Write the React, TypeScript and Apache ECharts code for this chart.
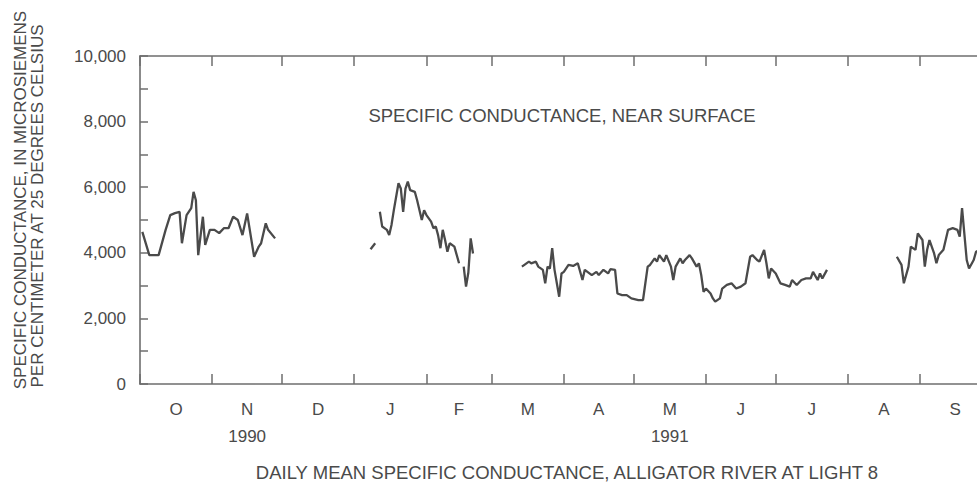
import React, { useEffect, useRef } from "react";
import * as echarts from "echarts";

// Water year Oct 1990 – Sep 1991; day numbers count from 1 Oct 1990
const monthLetters = ["O", "N", "D", "J", "F", "M", "A", "M", "J", "J", "A", "S"];
const yearUnderMonth: Record<number, string> = { 1: "1990", 7: "1991" };

const seg1Days = [1, 4, 8, 11, 13, 15, 17, 18, 20, 22, 23, 24, 25, 27, 28, 30, 32, 34, 36, 38, 40, 42, 44, 46, 49, 51, 52, 54, 55, 58];
const seg1Values = [4640, 3930, 3930, 4700, 5150, 5210, 5250, 4290, 5150, 5360, 5860, 5600, 3930, 5100, 4240, 4700, 4700, 4600, 4750, 4750, 5100, 5000, 4540, 5200, 3880, 4190, 4290, 4900, 4700, 4440];

const seg2Days = [99, 101];
const seg2Values = [4110, 4290];

const seg3Days = [103, 104, 106, 107, 108, 109, 111, 112, 113, 114, 115, 116, 118, 119, 121, 122, 123, 125, 126, 127, 128, 129, 130, 131, 132, 133, 135, 137];
const seg3Values = [5250, 4800, 4700, 4540, 4850, 5300, 6120, 5960, 5250, 5960, 6170, 5910, 5860, 5600, 5000, 5300, 5150, 4950, 4750, 4800, 4540, 4140, 4700, 4390, 4030, 4290, 4190, 3680];

const seg4Days = [139, 140, 141, 142, 143];
const seg4Values = [3580, 2970, 3400, 4440, 3980];

const seg5Days = [164, 167, 168, 170, 171, 173, 174, 175, 176, 177, 178, 180, 181, 182, 184, 186, 188, 190, 191, 194, 196, 197, 199, 201, 202, 204, 205, 207, 209, 211, 214, 216, 218, 219, 221, 222, 223, 225, 226, 228, 229, 230, 232, 233, 234, 236, 237, 239, 240, 241, 242, 243, 245, 246, 247, 249, 250, 252, 254, 256, 258, 260, 262, 263, 265, 266, 268, 269, 270, 271, 273, 275, 277, 279, 280, 282, 284, 286, 288, 289, 291, 292, 293, 295];
const seg5Values = [3580, 3730, 3680, 3730, 3580, 3480, 3070, 3580, 3520, 4140, 3480, 2660, 3370, 3420, 3630, 3600, 3680, 3170, 3480, 3320, 3420, 3320, 3480, 3370, 3500, 3480, 2760, 2710, 2710, 2610, 2560, 2560, 3580, 3630, 3830, 3730, 3930, 3730, 3930, 3580, 3170, 3580, 3830, 3680, 3780, 3930, 3830, 3580, 3680, 3320, 2810, 2910, 2760, 2610, 2510, 2610, 2910, 3020, 3070, 2910, 2970, 3070, 3880, 3930, 3780, 3730, 4090, 3680, 3220, 3520, 3370, 3070, 3020, 2970, 3170, 3020, 3170, 3220, 3220, 3420, 3170, 3370, 3220, 3480];

const seg6Days = [325, 327, 328, 330, 331, 333, 334, 336, 337, 338, 339, 341, 342, 343, 345, 347, 349, 351, 352, 353, 355, 356, 358, 359, 361];
const seg6Values = [3880, 3630, 3070, 3580, 4190, 4090, 4590, 4390, 3580, 4090, 4390, 3980, 3680, 3930, 4090, 4700, 4750, 4700, 4490, 5360, 3780, 3520, 3780, 4030, 4100];

const yAxisTitle1 = "SPECIFIC CONDUCTANCE, IN MICROSIEMENS";
const yAxisTitle2 = "PER CENTIMETER AT 25 DEGREES CELSIUS";
const innerTitle = "SPECIFIC CONDUCTANCE, NEAR SURFACE";
const bottomTitle = "DAILY MEAN SPECIFIC CONDUCTANCE, ALLIGATOR RIVER AT LIGHT 8";

const FONT = "'Liberation Sans', Arial, Helvetica, sans-serif";
const TEXT = "#4a4a4a";
const AXIS = "#6e6e6e";
const LINE = "#4a4a4a";

const dayToTime = (d: number) => new Date(1990, 9, 1 + d).getTime();
const pairs = (days: number[], values: number[]) => days.map((d, i) => [dayToTime(d), values[i]]);

const monthStarts = Array.from({ length: 13 }, (_, i) => new Date(1990, 9 + i, 1).getTime());
const monthMids = monthLetters.map((_, i) => (monthStarts[i] + monthStarts[i + 1]) / 2);

export default function App() {
  const ref = useRef<HTMLDivElement>(null);
  useEffect(() => {
    document.body.style.margin = "0";
    document.body.style.overflow = "hidden";
    const chart = echarts.init(ref.current!, null, { renderer: "svg" });
    const segs = [
      [seg1Days, seg1Values],
      [seg2Days, seg2Values],
      [seg3Days, seg3Values],
      [seg4Days, seg4Values],
      [seg5Days, seg5Values],
      [seg6Days, seg6Values],
    ];
    const xMin = monthStarts[0];
    const xMax = monthStarts[12];
    const monthLabel = (v: number) => {
      let idx = 0;
      let best = Infinity;
      monthMids.forEach((m, i) => {
        const dd = Math.abs(m - v);
        if (dd < best) { best = dd; idx = i; }
      });
      const y = yearUnderMonth[idx];
      return y ? monthLetters[idx] + "\n" + y : monthLetters[idx];
    };
    const frameLine = { show: true, onZero: false, lineStyle: { color: AXIS, width: 1.6 } };
    chart.setOption({
      animation: false,
      backgroundColor: "#ffffff",
      grid: { left: 140, right: -13, top: 56, bottom: 101, containLabel: false, outerBoundsMode: "none" },
      xAxis: [
        {
          type: "value",
          min: xMin,
          max: xMax,
          position: "bottom",
          axisLine: frameLine,
          axisTick: { show: true, inside: true, length: 10, customValues: monthStarts, lineStyle: { color: AXIS, width: 1.5 } },
          axisLabel: {
            show: true,
            customValues: monthMids,
            margin: 12,
            color: TEXT,
            fontSize: 17,
            fontFamily: FONT,
            lineHeight: 27,
            formatter: monthLabel,
          },
          splitLine: { show: false },
        },
        {
          type: "value",
          min: xMin,
          max: xMax,
          position: "top",
          axisLine: frameLine,
          axisTick: { show: true, inside: true, length: 10, customValues: monthStarts, lineStyle: { color: AXIS, width: 1.5 } },
          axisLabel: { show: false },
          splitLine: { show: false },
        },
      ],
      yAxis: [
        {
          type: "value",
          min: 0,
          max: 10000,
          interval: 1000,
          position: "left",
          axisLine: frameLine,
          axisTick: { show: true, inside: true, length: 8, lineStyle: { color: AXIS, width: 1.5 } },
          axisLabel: {
            margin: 14,
            color: TEXT,
            fontSize: 17,
            fontFamily: FONT,
            formatter: (v: number) => (v % 2000 === 0 ? v.toLocaleString("en-US") : ""),
          },
          splitLine: { show: false },
        },
        {
          type: "value",
          min: 0,
          max: 10000,
          interval: 1000,
          position: "right",
          axisLine: frameLine,
          axisTick: { show: true, inside: true, length: 8, lineStyle: { color: AXIS, width: 1.5 } },
          axisLabel: { show: false },
          splitLine: { show: false },
        },
      ],
      series: segs.map(([d, v]) => ({
        type: "line",
        xAxisIndex: 0,
        yAxisIndex: 0,
        data: pairs(d as number[], v as number[]),
        showSymbol: false,
        symbol: "none",
        lineStyle: { color: LINE, width: 2.3 },
        silent: true,
      })),
      graphic: [
        {
          type: "text",
          x: 20,
          y: 200,
          rotation: Math.PI / 2,
          style: { text: yAxisTitle1, fill: TEXT, fontSize: 17, fontFamily: FONT, textAlign: "center", textVerticalAlign: "middle" },
        },
        {
          type: "text",
          x: 37,
          y: 206,
          rotation: Math.PI / 2,
          style: { text: yAxisTitle2, fill: TEXT, fontSize: 17, fontFamily: FONT, textAlign: "center", textVerticalAlign: "middle" },
        },
        {
          type: "text",
          x: 562,
          y: 115,
          style: { text: innerTitle, fill: TEXT, fontSize: 18.5, fontFamily: FONT, textAlign: "center", textVerticalAlign: "middle" },
        },
        {
          type: "text",
          x: 567,
          y: 472,
          style: { text: bottomTitle, fill: TEXT, fontSize: 18.5, fontFamily: FONT, textAlign: "center", textVerticalAlign: "middle" },
        },
      ],
    });
    return () => chart.dispose();
  }, []);
  return <div ref={ref} style={{ width: 977, height: 485 }} />;
}
